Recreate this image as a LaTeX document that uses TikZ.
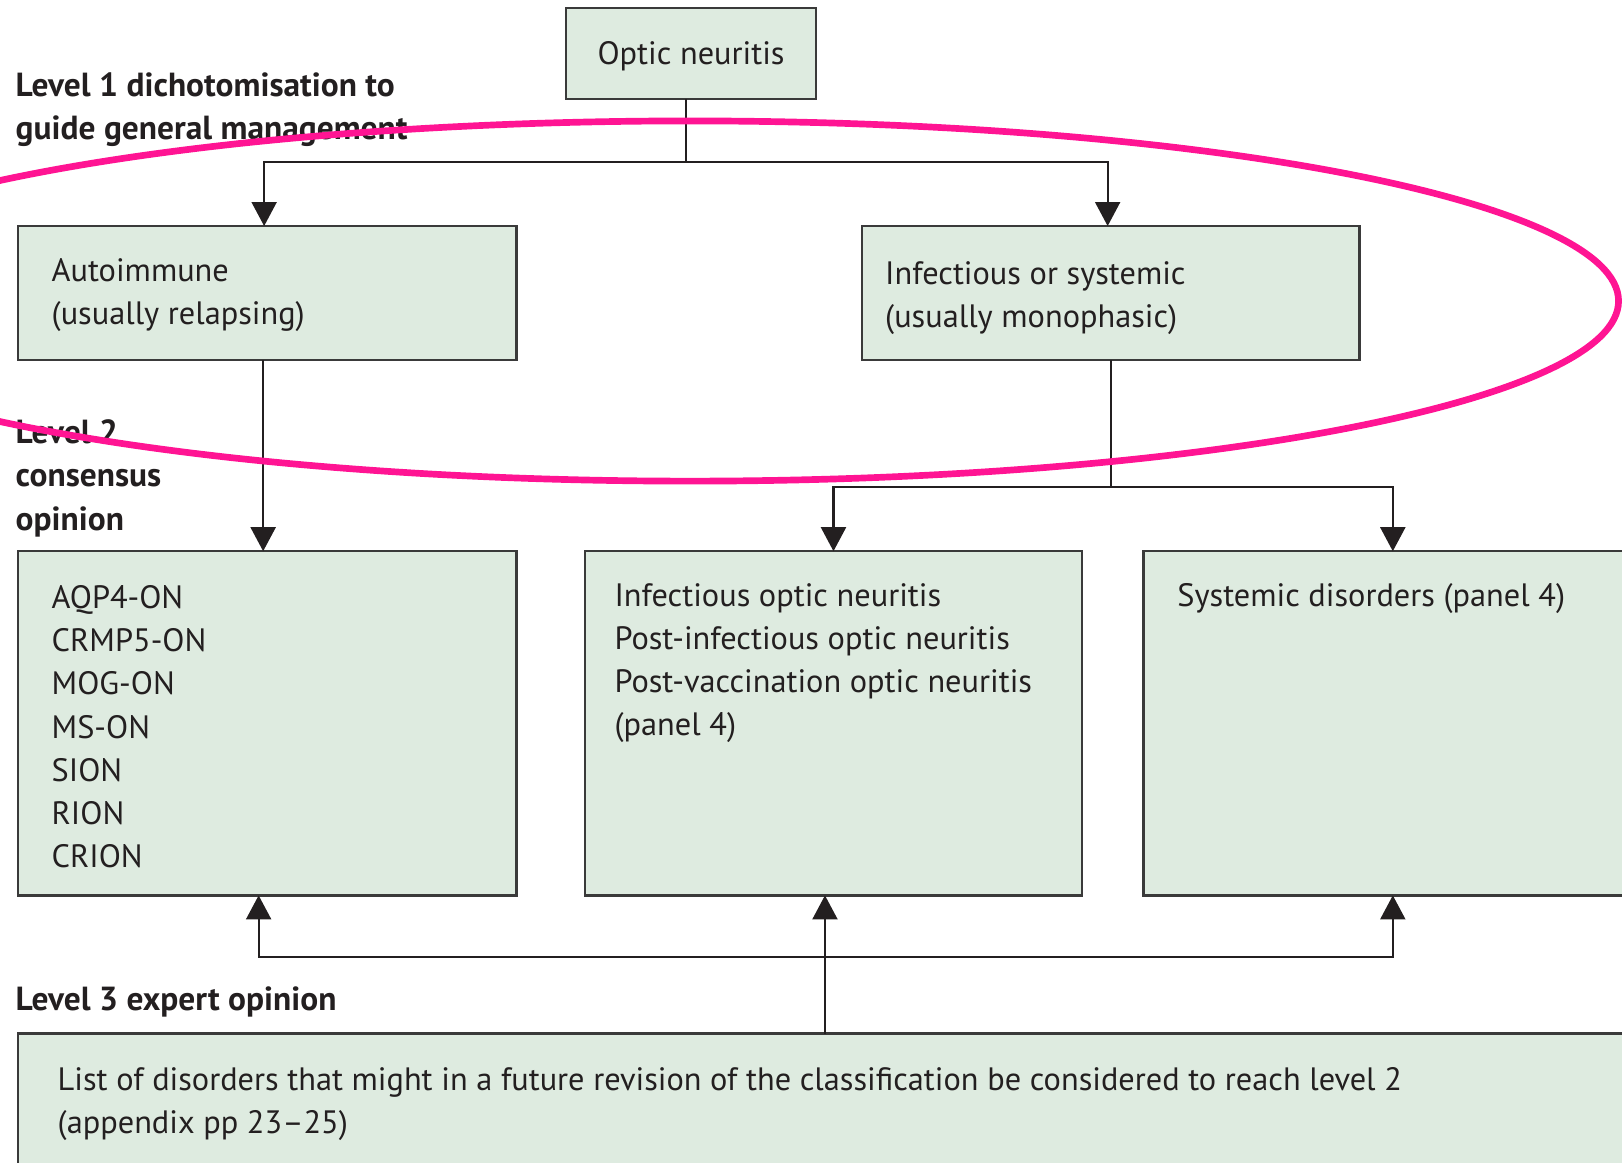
\documentclass[tikz,border=0pt]{standalone}
\usepackage{fontspec}
\setmainfont{PT Sans}
\usetikzlibrary{positioning, arrows.meta}
\definecolor{boxfill}{RGB}{222,235,224}
\definecolor{boxline}{RGB}{58,58,58}
\definecolor{inkdark}{RGB}{35,31,32}
\definecolor{hotpink}{RGB}{255,20,147}
\tikzset{%
  box/.style={draw=boxline, fill=boxfill, line width=0.7pt, inner sep=0pt, outer sep=0pt,
    text=inkdark, font=\fontsize{9.2}{12.23}\selectfont}, % the green boxes
  txt/.style={inner sep=0pt, align=left, text=inkdark, font=\fontsize{9.2}{12.23}\selectfont},
  lvl/.style={txt, font=\fontsize{9.5}{12.3}\selectfont\bfseries},
  link/.style={draw=inkdark, line width=0.6pt},
  >={Triangle[length=2.4mm, width=2.5mm]},
  hilite/.style={draw=hotpink, line width=1.9pt}
}

\begin{document}
\begin{tikzpicture}[x=0.01cm, y=-0.01cm]
  \useasboundingbox (0,0) rectangle (1622,1162);
  \clip (0,0) rectangle (1622,1162);

  % boxes
  \node[box, minimum width=2.5cm, minimum height=0.91cm, text height=6.4pt, text depth=0pt, anchor=north west] (optic) at (566,8) {Optic neuritis};
  \node[box, minimum width=4.98cm, minimum height=1.34cm, anchor=north west] (autoimmune) at (18,226) {};
  \node[box, minimum width=4.97cm, minimum height=1.34cm, anchor=north west] (infect) at (862,226) {};
  \node[box, minimum width=4.98cm, minimum height=3.44cm, below=1.91cm of autoimmune] (aqp) {};
  \node[box, minimum width=4.97cm, minimum height=3.44cm, right=0.685cm of aqp] (infopt) {};
  \node[box, minimum width=4.98cm, minimum height=3.44cm, right=0.615cm of infopt] (sysdis) {};
  \node[box, minimum width=16.5cm, minimum height=2cm, below=1.38cm of aqp.south west, anchor=north west] (list) {};

  % texts in the boxes
  \node[txt, below right=0.32cm and 0.33cm of autoimmune.north west] (autoText) {Autoimmune\\(usually relapsing)};
  \node[txt, below right=0.35cm and 0.225cm of infect.north west] (infectText) {Infectious or systemic\\(usually monophasic)};
  \node[txt, below right=0.34cm and 0.33cm of aqp.north west] (aqpText) {AQP4-ON\\CRMP5-ON\\MOG-ON\\MS-ON\\SION\\RION\\CRION};
  \node[txt, below right=0.32cm and 0.29cm of infopt.north west] (infoptText) {Infectious optic neuritis\\Post-infectious optic neuritis\\Post-vaccination optic neuritis\\(panel 4)};
  \node[txt, below right=0.32cm and 0.33cm of sysdis.north west] (sysdisText) {Systemic disorders (panel 4)};
  \node[txt, below right=0.335cm and 0.39cm of list.north west] (listText) {List of disorders that might in a future revision of the classification be considered to reach level 2\\(appendix pp 23--25)};

  % level labels
  \node[lvl, anchor=north west] (lvlOne) at (15,72) {Level 1 dichotomisation to\\guide general management};
  \node[lvl, anchor=north west] (lvlTwo) at (15,419) {Level 2\\consensus\\opinion};
  \node[lvl, anchor=north west] (lvlThree) at (15,986) {Level 3 expert opinion};

  % connectors
  \draw[link] ([xshift=-0.05cm]optic.south) -- ++(0,63) coordinate (forkOne);
  \draw[link, ->] (forkOne) -| ([xshift=-0.03cm]autoimmune.north);
  \draw[link, ->] (forkOne) -| ([xshift=-0.03cm]infect.north);
  \draw[link, ->] ([xshift=-0.04cm]autoimmune.south) -- ([xshift=-0.04cm]aqp.north);
  \draw[link] (infect.south) -- ++(0,127) coordinate (forkTwo);
  \draw[link, ->] (forkTwo) -| (infopt.north);
  \draw[link, ->] (forkTwo) -| (sysdis.north);
  \coordinate (riseMid) at ([xshift=-0.085cm]infopt.south);
  \coordinate (riseLeft) at ([xshift=-0.085cm]aqp.south);
  \draw[link, ->] (list.north -| riseMid) -- (riseMid);
  \coordinate (forkThree) at ([shift={(0,62)}]riseMid);
  \draw[link, ->] (forkThree) -| (riseLeft);
  \draw[link, ->] (forkThree) -| (sysdis.south);

  % highlight of level 1
  \draw[hilite] (690,301) ellipse [x radius=9.28cm, y radius=1.8cm];
\end{tikzpicture}
\end{document}
